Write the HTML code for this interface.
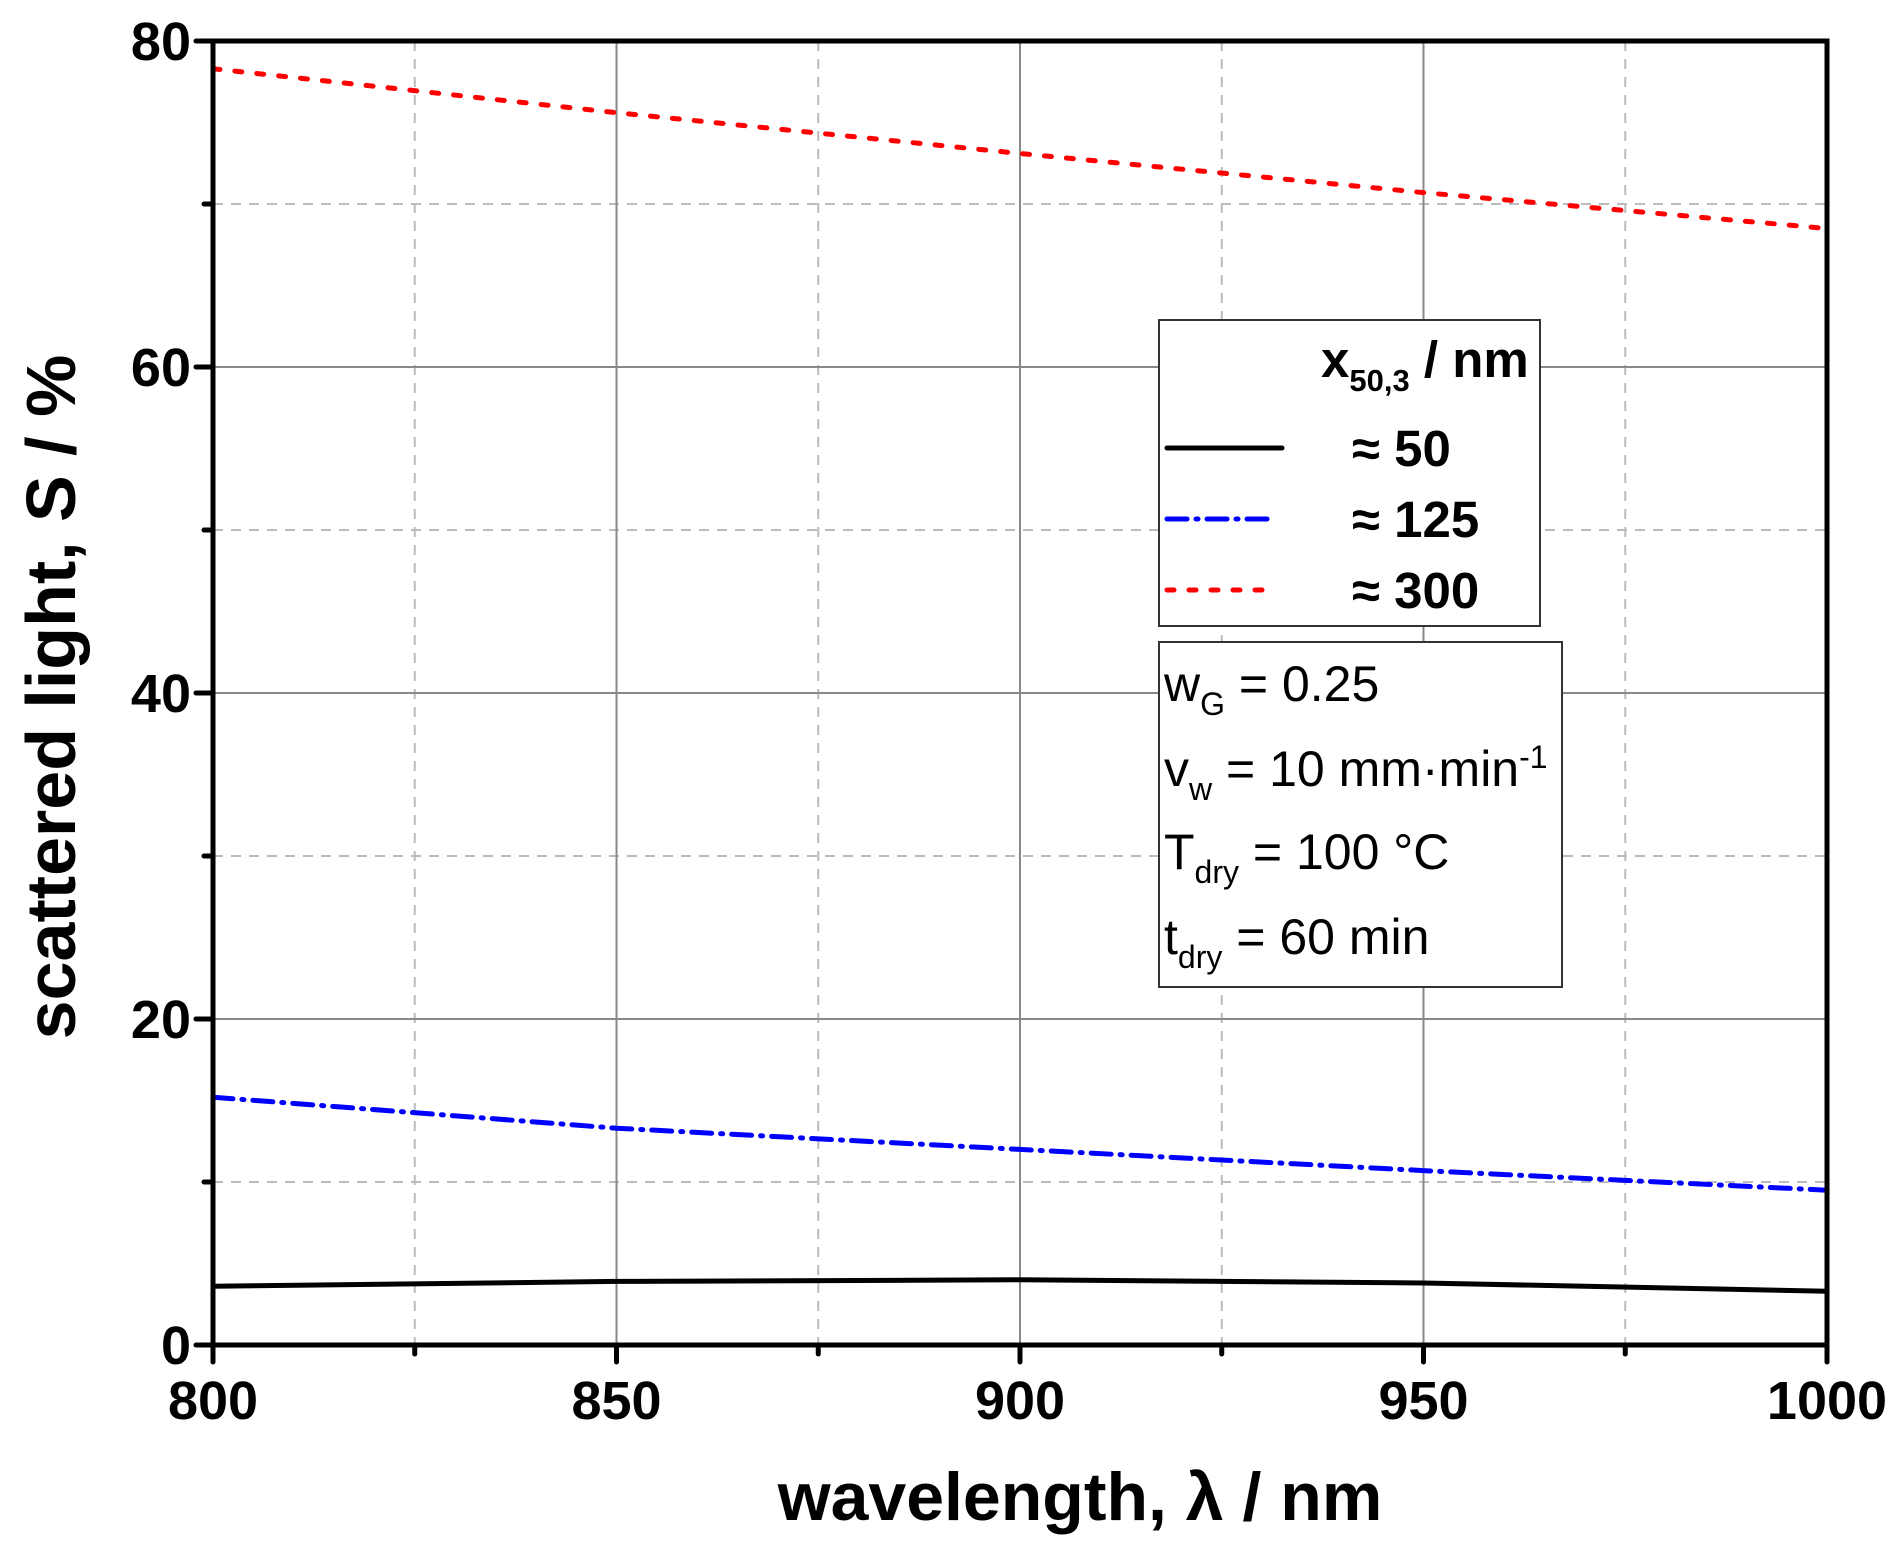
<!DOCTYPE html>
<html><head><meta charset="utf-8"><style>body{margin:0;background:#fff}svg{display:block}</style></head><body>
<svg width="1899" height="1555" xmlns="http://www.w3.org/2000/svg" font-family="Liberation Sans, Arial, sans-serif">
<g stroke="#bbb" stroke-width="2" stroke-dasharray="10,8">
<line x1="414.75" y1="41" x2="414.75" y2="1345"/><line x1="818.25" y1="41" x2="818.25" y2="1345"/><line x1="1221.75" y1="41" x2="1221.75" y2="1345"/><line x1="1625.25" y1="41" x2="1625.25" y2="1345"/>
<line x1="213" y1="1182" x2="1827" y2="1182"/><line x1="213" y1="856" x2="1827" y2="856"/><line x1="213" y1="530" x2="1827" y2="530"/><line x1="213" y1="204" x2="1827" y2="204"/>
</g>
<g stroke="#888" stroke-width="2">
<line x1="616.5" y1="41" x2="616.5" y2="1345"/><line x1="1020" y1="41" x2="1020" y2="1345"/><line x1="1423.5" y1="41" x2="1423.5" y2="1345"/>
<line x1="213" y1="1019" x2="1827" y2="1019"/><line x1="213" y1="693" x2="1827" y2="693"/><line x1="213" y1="367" x2="1827" y2="367"/>
</g>
<g fill="none" stroke-width="5" stroke-linecap="round">
<polyline stroke="#f00" stroke-dasharray="7,15" points="213,68.7 616.5,112.7 1020,153.5 1423.5,192.6 1827,228.5"/>
<polyline stroke="#00f" stroke-dasharray="20,9,2,9" points="213,1097.2 616.5,1128.2 1020,1149.4 1423.5,1170.6 1827,1190.2"/>
<polyline stroke="#000" points="213,1286.3 616.5,1281.4 1020,1279.8 1423.5,1283 1827,1291.2"/>
</g>
<g stroke="#000" stroke-width="5" stroke-linecap="round">
<rect x="213" y="41" width="1614" height="1304" fill="none" stroke-linecap="butt"/>
<line x1="213" y1="1345" x2="213" y2="1362"/><line x1="616.5" y1="1345" x2="616.5" y2="1362"/><line x1="1020" y1="1345" x2="1020" y2="1362"/><line x1="1423.5" y1="1345" x2="1423.5" y2="1362"/><line x1="1827" y1="1345" x2="1827" y2="1362"/>
<line x1="414.75" y1="1345" x2="414.75" y2="1354"/><line x1="818.25" y1="1345" x2="818.25" y2="1354"/><line x1="1221.75" y1="1345" x2="1221.75" y2="1354"/><line x1="1625.25" y1="1345" x2="1625.25" y2="1354"/>
<line x1="196" y1="1345" x2="213" y2="1345"/><line x1="196" y1="1019" x2="213" y2="1019"/><line x1="196" y1="693" x2="213" y2="693"/><line x1="196" y1="367" x2="213" y2="367"/><line x1="196" y1="41" x2="213" y2="41"/>
<line x1="204" y1="1182" x2="213" y2="1182"/><line x1="204" y1="856" x2="213" y2="856"/><line x1="204" y1="530" x2="213" y2="530"/><line x1="204" y1="204" x2="213" y2="204"/>
</g>
<g font-size="54" font-weight="bold" text-anchor="end">
<text x="191" y="1364">0</text><text x="191" y="1038">20</text><text x="191" y="712">40</text><text x="191" y="386">60</text><text x="191" y="60">80</text>
</g>
<g font-size="54" font-weight="bold" text-anchor="middle">
<text x="213" y="1419">800</text><text x="616.5" y="1419">850</text><text x="1020" y="1419">900</text><text x="1423.5" y="1419">950</text><text x="1827" y="1419">1000</text>
</g>
<text x="1080" y="1520" font-size="68" font-weight="bold" text-anchor="middle">wavelength, λ / nm</text>
<text transform="translate(75,697) rotate(-90)" font-size="70" font-weight="bold" text-anchor="middle">scattered light, S / %</text>
<rect x="1159" y="320" width="381" height="306" fill="#fff" stroke="#333" stroke-width="2"/>
<text x="1321" y="377" font-size="51" font-weight="bold">x<tspan font-size="31" dy="14">50,3</tspan><tspan dy="-14"> / nm</tspan></text>
<line x1="1167" y1="448" x2="1282" y2="448" stroke="#000" stroke-width="5" stroke-linecap="round"/>
<line x1="1167" y1="519" x2="1272" y2="519" stroke="#00f" stroke-width="5" stroke-linecap="round" stroke-dasharray="20,9,2,9"/>
<line x1="1167" y1="590" x2="1277" y2="590" stroke="#f00" stroke-width="5" stroke-linecap="round" stroke-dasharray="7,15"/>
<g font-size="51" font-weight="bold"><text x="1352" y="466">≈ 50</text><text x="1352" y="537">≈ 125</text><text x="1352" y="608">≈ 300</text></g>
<rect x="1159" y="642" width="403" height="345" fill="#fff" stroke="#333" stroke-width="2"/>
<g font-size="50" xml:space="preserve">
<text x="1164" y="701">w<tspan font-size="32" dy="14">G</tspan><tspan dy="-14"> = 0.25</tspan></text>
<text x="1164" y="786">v<tspan font-size="32" dy="14">w</tspan><tspan dy="-14"> = 10 mm·min</tspan><tspan font-size="32" dy="-18">-1</tspan></text>
<text x="1164" y="869">T<tspan font-size="32" dy="14">dry</tspan><tspan dy="-14"> = 100 °C</tspan></text>
<text x="1164" y="954">t<tspan font-size="32" dy="14">dry</tspan><tspan dy="-14"> =  60 min</tspan></text>
</g>
</svg>
</body></html>
